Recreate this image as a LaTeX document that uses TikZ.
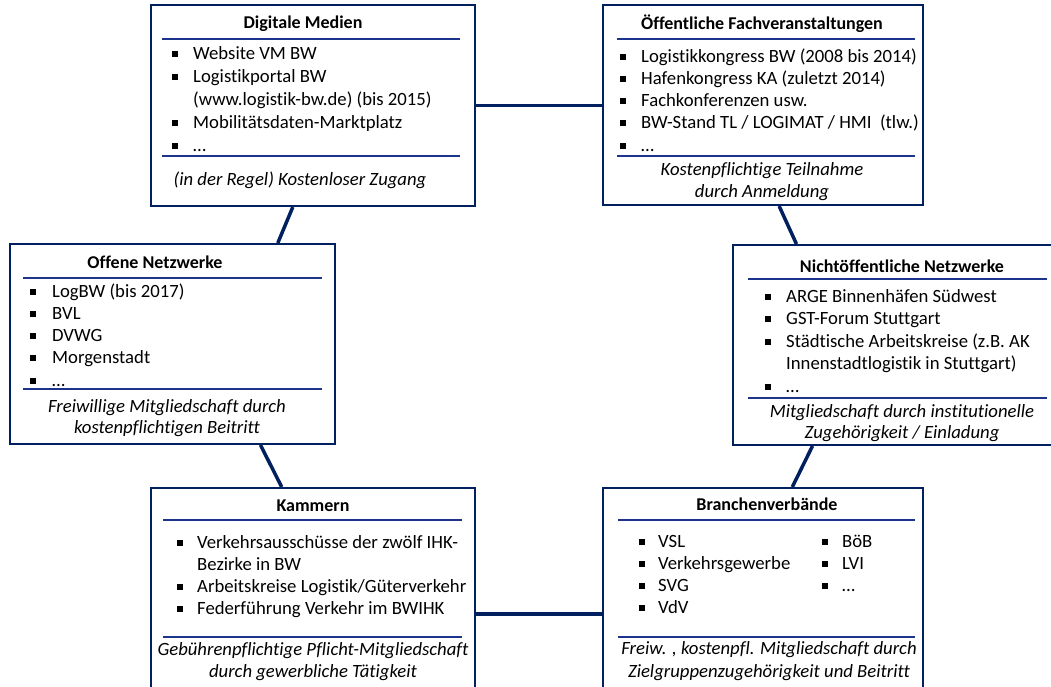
\documentclass[tikz,border=0pt]{standalone}
\usepackage{fontspec}
\setmainfont{Carlito}[Ligatures=NoCommon]
\usetikzlibrary{calc}
\definecolor{navy}{RGB}{0,32,96}
\definecolor{rulec}{RGB}{28,52,140}

% bullet item: name, bullet x, text x, centre y of the line, text
\newcommand\bitem[5]{%
  \fill ({#2-3},{#4-3}) rectangle ({#2+3},{#4+3});
  \node[txt,anchor=base west] (#1) at (#3,{#4+5.5}) {#5};}
% continuation line without bullet
\newcommand\citem[4]{%
  \node[txt,anchor=base west] (#1) at (#2,{#3+5.5}) {#4};}
% centred line: name, x, centre y, style, text
\newcommand\ctrline[5]{%
  \node[txt,#4,anchor=base] (#1) at (#2,{#3+5.5}) {#5};}

\begin{document}
\begin{tikzpicture}[x=1pt,y=-1pt,
  box/.style={draw=navy,line width=2pt,fill=white,rectangle,inner sep=0},
  conn/.style={draw=navy,line width=3.5pt},
  sep/.style={draw=rulec,line width=2pt},
  txt/.style={inner sep=0,font=\fontsize{18.7}{22}\selectfont},
  ttl/.style={font=\fontsize{18}{22}\selectfont\bfseries},
  ftr/.style={font=\fontsize{18.7}{22}\selectfont\itshape}]
\useasboundingbox (0,0) rectangle (1051,687);
\clip (0,0) rectangle (1051,687);

% the six boxes
\node[box,minimum width=324,minimum height=201] (b1) at (313,105.5) {};
\node[box,minimum width=320,minimum height=200] (b2) at (763,105) {};
\node[box,minimum width=325,minimum height=200] (b3) at (172.5,344) {};
\node[box,minimum width=332,minimum height=200] (b4) at (899,345) {};
\node[box,minimum width=324,minimum height=212] (b5) at (313,594) {};
\node[box,minimum width=320,minimum height=212] (b6) at (763,594) {};

% connectors between the boxes
\coordinate (k5) at ($(b5.north east)+(0,127)$);
\draw[conn] (b1.east) -- (b1.east -| b2.west);
\draw[conn] (k5) -- (k5 -| b6.west);
\draw[conn] ($(b1.south west)!0.438!(b1.south east)$) -- ($(b3.north west)!0.822!(b3.north east)$);
\draw[conn] ($(b2.south west)!0.55!(b2.south east)$) -- ($(b4.north west)!0.193!(b4.north east)$);
\draw[conn] ($(b3.south west)!0.769!(b3.south east)$) -- ($(b5.north west)!0.404!(b5.north east)$);
\draw[conn] ($(b4.south west)!0.241!(b4.south east)$) -- ($(b6.north west)!0.591!(b6.north east)$);

% Digitale Medien
\ctrline{t1}{303}{23}{ttl}{Digitale Medien}
\draw[sep] (162,39) -- (460,39);
\bitem{a1}{175}{193}{54}{Website VM BW}
\bitem{a2}{175}{193}{77}{Logistikportal BW}
\citem{a3}{193}{100}{(www.logistik-bw.de) (bis 2015)}
\bitem{a4}{175}{193}{123}{Mobilitätsdaten-Marktplatz}
\bitem{a5}{175}{193}{146}{…}
\draw[sep] (162,156) -- (460,156);
\ctrline{f1}{300}{180}{ftr}{(in der Regel) Kostenloser Zugang}

% Oeffentliche Fachveranstaltungen
\ctrline{t2}{762}{24}{ttl}{Öffentliche Fachveranstaltungen}
\draw[sep] (617,39) -- (915,39);
\bitem{e1}{623}{641}{57}{Logistikkongress BW (2008 bis 2014)}
\bitem{e2}{623}{641}{79}{Hafenkongress KA (zuletzt 2014)}
\bitem{e3}{623}{641}{101}{Fachkonferenzen usw.}
\bitem{e4}{623}{641}{123}{BW-Stand TL / LOGIMAT / HMI\ \ (tlw.)}
\bitem{e5}{623}{641}{146}{…}
\draw[sep] (617,156) -- (915,156);
\ctrline{f2a}{762}{170}{ftr}{Kostenpflichtige Teilnahme}
\ctrline{f2b}{762}{192}{ftr}{durch Anmeldung}

% Offene Netzwerke
\ctrline{t3}{155}{263}{ttl}{Offene Netzwerke}
\draw[sep] (23,278) -- (322,278);
\bitem{o1}{33}{52}{292}{LogBW (bis 2017)}
\bitem{o2}{33}{52}{314}{BVL}
\bitem{o3}{33}{52}{336}{DVWG}
\bitem{o4}{33}{52}{358}{Morgenstadt}
\bitem{o5}{33}{52}{381}{…}
\draw[sep] (23,389) -- (322,389);
\ctrline{f3a}{167}{407}{ftr}{Freiwillige Mitgliedschaft durch}
\ctrline{f3b}{167}{428}{ftr}{kostenpflichtigen Beitritt}

% Nichtoeffentliche Netzwerke
\ctrline{t4}{902}{267}{ttl}{Nichtöffentliche Netzwerke}
\draw[sep] (748,279) -- (1047,279);
\bitem{n1}{768}{786}{297}{ARGE Binnenhäfen Südwest}
\bitem{n2}{768}{786}{319}{GST-Forum Stuttgart}
\bitem{n3}{768}{786}{342}{Städtische Arbeitskreise (z.B. AK}
\citem{n4}{786}{364}{Innenstadtlogistik in Stuttgart)}
\bitem{n5}{768}{786}{387}{…}
\draw[sep] (748,398) -- (1047,398);
\ctrline{f4a}{902}{412}{ftr}{Mitgliedschaft durch institutionelle}
\ctrline{f4b}{902}{433}{ftr}{Zugehörigkeit / Einladung}

% Kammern
\ctrline{t5}{313}{506}{ttl}{Kammern}
\draw[sep] (163,520) -- (462,520);
\bitem{k1}{180}{197}{543}{Verkehrsausschüsse der zwölf IHK-}
\citem{k2}{197}{565}{Bezirke in BW}
\bitem{k3}{180}{197}{587}{Arbeitskreise Logistik/Güterverkehr}
\bitem{k4}{180}{197}{609}{Federführung Verkehr im BWIHK}
\draw[sep] (163,637) -- (462,637);
\ctrline{f5a}{313}{650}{ftr}{Gebührenpflichtige Pflicht-Mitgliedschaft}
\ctrline{f5b}{313}{672}{ftr}{durch gewerbliche Tätigkeit}

% Branchenverbaende
\ctrline{t6}{767}{505}{ttl}{Branchenverbände}
\draw[sep] (618,520) -- (915,520);
\bitem{v1}{642}{658}{542}{VSL}
\bitem{v2}{642}{658}{564}{Verkehrsgewerbe}
\bitem{v3}{642}{658}{586}{SVG}
\bitem{v4}{642}{658}{608}{VdV}
\bitem{v5}{825}{842}{542}{BöB}
\bitem{v6}{825}{842}{564}{LVI}
\bitem{v7}{825}{842}{586}{…}
\draw[sep] (618,637) -- (915,637);
\ctrline{f6a}{769}{649}{ftr}{Freiw. , kostenpfl. Mitgliedschaft durch}
\ctrline{f6b}{769}{672}{ftr}{Zielgruppenzugehörigkeit und Beitritt}
\end{tikzpicture}
\end{document}
